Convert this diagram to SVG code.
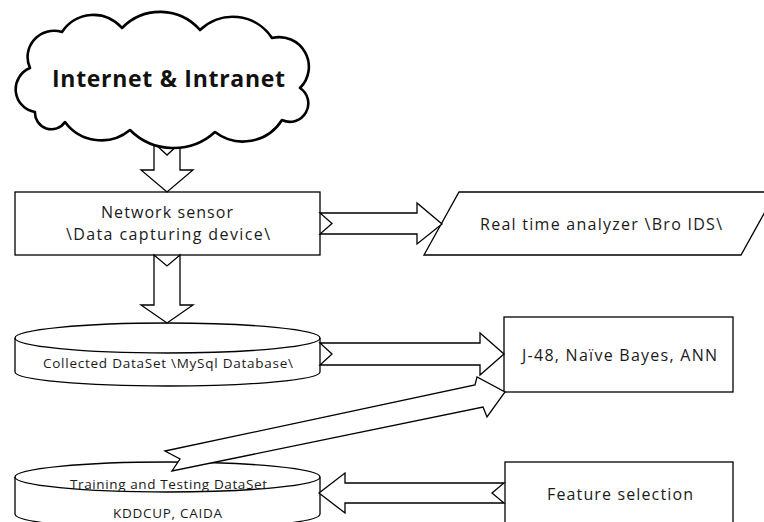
<svg xmlns="http://www.w3.org/2000/svg" width="764" height="522" viewBox="0 0 764 522">
  <style>
    .shape { fill: #ffffff; stroke: #000000; stroke-width: 1.3; stroke-linejoin: miter; }
    .edge { fill: none; stroke: #000000; stroke-width: 1.3; }
    .arrow { fill: #ffffff; stroke: #000000; stroke-width: 1.3; stroke-linejoin: miter; }
    .cloud { fill: #ffffff; stroke: #000000; stroke-width: 2.6; stroke-linejoin: round; }
    .lbl { font-family: "Open Sans", "DejaVu Sans", sans-serif; fill: #1a1a1a; text-anchor: middle; }
    .big { font-size: 16px; }
    .small { font-size: 13.5px; }
    .title { font-size: 23px; font-weight: bold; fill: #111111; }
  </style>
  <rect width="764" height="522" fill="#ffffff"/>

  <!-- Network sensor -->
  <g id="sensor">
    <rect class="shape" x="15" y="192" width="305" height="63"/>
    <text class="lbl big" x="167" y="218" textLength="132">Network sensor</text>
    <text class="lbl big" x="168" y="240" textLength="204">\Data capturing device\</text>
  </g>

  <!-- Real time analyzer (parallelogram, runs off the right edge) -->
  <g id="analyzer">
    <polygon class="shape" points="459,192 776,192 741,255 424,255"/>
    <text class="lbl big" x="601" y="230" textLength="242">Real time analyzer \Bro IDS\</text>
  </g>

  <!-- Collected dataset cylinder -->
  <g id="collected">
    <path class="shape" d="M15,338 A152.5,15 0 0 1 320,338 V372 A152.5,14 0 0 1 15,372 Z"/>
    <path class="edge" d="M15,338 A152.5,15 0 0 0 320,338"/>
    <text class="lbl small" x="168" y="368" textLength="250">Collected DataSet \MySql Database\</text>
  </g>

  <!-- Classifiers -->
  <g id="classifiers">
    <rect class="shape" x="504" y="317" width="229" height="75"/>
    <text class="lbl big" x="619.5" y="361" textLength="195">J-48, Naïve Bayes, ANN</text>
  </g>

  <!-- Training / testing cylinder -->
  <g id="training">
    <path class="shape" d="M15,477 A152.5,15 0 0 1 320,477 V514 A152.5,15 0 0 1 15,514 Z"/>
    <path class="edge" d="M15,477 A152.5,15 0 0 0 320,477"/>
    <text class="lbl small" x="168.5" y="489" textLength="197">Training and Testing DataSet</text>
    <text class="lbl small" x="167.5" y="518" textLength="109">KDDCUP, CAIDA</text>
  </g>

  <!-- Feature selection -->
  <g id="features">
    <rect class="shape" x="505" y="462" width="228" height="72"/>
    <text class="lbl big" x="620" y="500" textLength="146">Feature selection</text>
  </g>

  <!-- Notched block arrows -->
  <g id="connectors">
    <polygon class="arrow" points="154,143 167,155 180,143 180,170 193,170 167,192 141,170 154,170"/>
    <polygon class="arrow" points="154,255 167,266 180,255 180,305 193,305 167,323 141,305 154,305"/>
    <polygon class="arrow" points="320,213 417,213 417,203 442,224 417,244 417,234 320,234 332,223.5"/>
    <polygon class="arrow" points="320,343 480,343 480,333 504,354 480,375 480,365 320,365 332,354"/>
    <polygon class="arrow" points="165,451 475,385 477,377 505,392 487,417 483,407 172,471 180,459"/>
    <polygon class="arrow" points="504,483 345,483 345,473 319,493 345,513 345,503 504,503 492,493"/>
  </g>

  <!-- Internet cloud -->
  <g id="internet">
    <path class="cloud" d="M30,68
      A26.3,26.3 0 0 1 62,32
      A37.5,37.5 0 0 1 122,28
      A53,53 0 0 1 200,30
      A47,47 0 0 1 272,38
      A29.7,29.7 0 0 1 300,88
      A18.4,18.4 0 0 1 282,120
      A46,46 0 0 1 215,132
      A61.6,61.6 0 0 1 130,130
      A45,45 0 0 1 65,122
      A16.4,16.4 0 0 1 35,112
      A23,23 0 0 1 30,68 Z"/>
    <text class="lbl title" x="168.5" y="87" textLength="233">Internet &amp; Intranet</text>
  </g>
</svg>
